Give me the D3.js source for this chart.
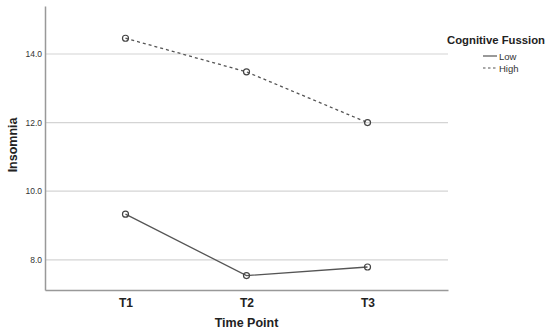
<!DOCTYPE html>
<html>
<head>
<meta charset="utf-8">
<script src="https://cdn.jsdelivr.net/npm/d3@7"></script>
<style>
  body { margin: 0; background: #fff; }
  text { font-family: Arial, "Liberation Sans", sans-serif; }
</style>
</head>
<body>
<div id="chart"></div>
<script>
// Data
const timePoints = ["T1", "T2", "T3"];
const lowValues = [9.33, 7.54, 7.79];
const highValues = [14.46, 13.48, 12.0];
const yTicks = [8, 10, 12, 14];
const seriesNames = ["Low", "High"];

const width = 550;
const height = 333;
const margin = { top: 6, right: 102, bottom: 43, left: 45 };

const svg = d3.select("#chart")
    .append("svg")
    .attr("width", width)
    .attr("height", height);

const x = d3.scalePoint()
    .domain(timePoints)
    .range([margin.left, width - margin.right])
    .padding(0.665);

const y = d3.scaleLinear()
    .domain([7.12, 15.4])
    .range([height - margin.bottom, margin.top]);

// Gridlines
svg.append("g")
    .selectAll("line")
    .data(yTicks)
    .enter().append("line")
    .attr("x1", margin.left)
    .attr("x2", width - margin.right)
    .attr("y1", d => y(d))
    .attr("y2", d => y(d))
    .attr("stroke", "#d4d4d4")
    .attr("stroke-width", 1.2);

// Y axis
const yAxis = svg.append("g")
    .attr("transform", `translate(${margin.left},0)`)
    .call(d3.axisLeft(y).tickValues(yTicks).tickFormat(d3.format(".1f")).tickSize(0).tickPadding(3));
yAxis.select(".domain").attr("stroke", "#999").attr("stroke-width", 1.5);
yAxis.selectAll("text").attr("font-size", 8.5).attr("fill", "#333");

// X axis
const xAxis = svg.append("g")
    .attr("transform", `translate(0,${height - margin.bottom})`)
    .call(d3.axisBottom(x).tickSize(0).tickPadding(8));
xAxis.select(".domain").attr("stroke", "#999").attr("stroke-width", 1.5);
xAxis.selectAll("text").attr("font-size", 12).attr("font-weight", "bold").attr("fill", "#222");

// Axis titles
svg.append("text")
    .attr("x", (margin.left + width - margin.right) / 2)
    .attr("y", 327)
    .attr("text-anchor", "middle")
    .attr("font-size", 12.5)
    .attr("font-weight", "bold")
    .attr("fill", "#222")
    .text("Time Point");

svg.append("text")
    .attr("transform", `translate(17,${y(11.35)}) rotate(-90)`)
    .attr("text-anchor", "middle")
    .attr("font-size", 12.5)
    .attr("font-weight", "bold")
    .attr("fill", "#222")
    .text("Insomnia");

// Lines
const line = d3.line()
    .x((d, i) => x(timePoints[i]))
    .y(d => y(d));

const series = [
    { name: seriesNames[0], values: lowValues, dash: null },
    { name: seriesNames[1], values: highValues, dash: "3,3" }
];

series.forEach(s => {
    svg.append("path")
        .datum(s.values)
        .attr("d", line)
        .attr("fill", "none")
        .attr("stroke", "#555")
        .attr("stroke-width", 1.3)
        .attr("stroke-dasharray", s.dash);

    svg.append("g")
        .selectAll("circle")
        .data(s.values)
        .enter().append("circle")
        .attr("cx", (d, i) => x(timePoints[i]))
        .attr("cy", d => y(d))
        .attr("r", 3)
        .attr("fill", "none")
        .attr("stroke", "#444")
        .attr("stroke-width", 1.2);
});

// Legend
svg.append("text")
    .attr("x", 447)
    .attr("y", 44)
    .attr("font-size", 11.5)
    .attr("font-weight", "bold")
    .attr("fill", "#222")
    .attr("textLength", 98)
    .attr("lengthAdjust", "spacingAndGlyphs")
    .text("Cognitive Fussion");

series.forEach((s, i) => {
    const ly = 56 + i * 12;
    svg.append("line")
        .attr("x1", 483)
        .attr("x2", 497)
        .attr("y1", ly)
        .attr("y2", ly)
        .attr("stroke", "#555")
        .attr("stroke-width", 1.2)
        .attr("stroke-dasharray", s.dash ? "2.5,2.5" : null);
    svg.append("text")
        .attr("x", 499)
        .attr("y", ly + 3.5)
        .attr("font-size", 9.5)
        .attr("fill", "#333")
        .text(s.name);
});
</script>
</body>
</html>
